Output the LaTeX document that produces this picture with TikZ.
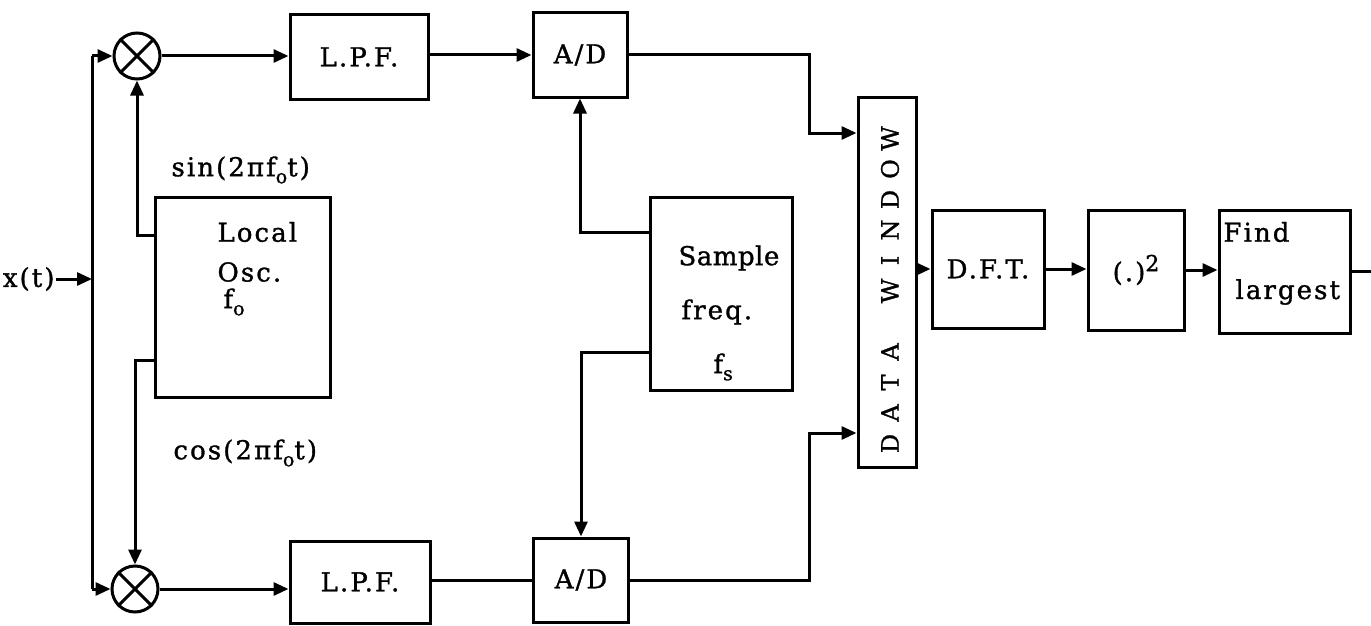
\documentclass[tikz,border=0pt]{standalone}
\usepackage{fontspec}
\setmainfont[LetterSpace=8,FakeBold=1.2]{DejaVu Serif}
\usetikzlibrary{arrows.meta,calc}
\newcommand{\dwl}[1]{\makebox[30.5pt]{#1}}
\newcommand{\sbo}[1]{\raisebox{-7pt}{\fontsize{19}{19}\selectfont #1}}
\begin{document}
\begin{tikzpicture}[x=1pt,y=-1pt,
  font=\fontsize{26}{30}\selectfont,
  line width=3pt,
  >={Triangle[length=15pt,width=13pt]},
  blk/.style={draw,rectangle,inner sep=0pt,line width=3pt},
  mult/.style={draw,circle,inner sep=0pt,minimum size=46pt,line width=3pt},
  txt/.style={inner sep=0pt,anchor=west}]
\useasboundingbox (0,0) rectangle (1371,626);

% multipliers
\node[mult] (m1) at (137,56) {};
\node[mult] (m2) at (135,589) {};
\draw (m1.north west) -- (m1.south east) (m1.north east) -- (m1.south west);
\draw (m2.north west) -- (m2.south east) (m2.north east) -- (m2.south west);

% boxes
\node[blk,minimum width=175pt,minimum height=200pt] (osc) at (242.5,297) {};
\node[blk,minimum width=138pt,minimum height=85pt] (lpf1) at (359,57) {L.P.F.};
\node[blk,minimum width=140pt,minimum height=82pt] (lpf2) at (360,582) {L.P.F.};
\node[blk,minimum width=94pt,minimum height=84pt] (ad1) at (580,55) {A/D};
\node[blk,minimum width=95pt,minimum height=84pt] (ad2) at (581,580) {A/D};
\node[blk,minimum width=142pt,minimum height=193pt] (samp) at (721,293.5) {};
\node[blk,minimum width=58pt,minimum height=370pt] (dw) at (887,282) {};
\node[inner sep=0pt,rotate=90,font=\fontsize{24}{28}\selectfont] (dwt) at (890,291)
  {\dwl{D}\dwl{A}\dwl{T}\dwl{A}\dwl{}\dwl{W}\dwl{I}\dwl{N}\dwl{D}\dwl{O}\dwl{W}};
\node[blk,minimum width=112pt,minimum height=118pt] (dft) at (988,269) {D.F.T.};
\node[blk,minimum width=96pt,minimum height=120pt] (sq) at (1136,270) {(.)\raisebox{10pt}{\fontsize{22}{22}\selectfont 2}};
\node[blk,minimum width=131pt,minimum height=123pt] (find) at (1284.5,271.5) {};

% texts inside boxes
\node[txt] (tlocal) at (216,232) {Local};
\node[txt] (tosc) at (216,272) {Osc.};
\node[txt] (tfo) at (222,302) {f\sbo{o}};
\node[txt] (tsample) at (677,258) {\addfontfeature{LetterSpace=2}Sample};
\node[txt] (tfreq) at (680,312) {freq.};
\node[txt] (tfs) at (712,367) {f\sbo{s}};
\node[txt] (tfind) at (1222,232) {Find};
\node[txt] (tlargest) at (1234,292) {largest};

% labels
\node[txt] (lsin) at (170,170) {sin(2πf\sbo{o}t)};
\node[txt] (lcos) at (172,453) {cos(2πf\sbo{o}t)};
\node[txt,anchor=east] (xt) at (56,279) {x(t)};

% input split
\coordinate (j1) at (92,56);
\coordinate (j2) at (92,589);
\draw (j1) -- (j2);
\draw[->] (xt.east) -- (xt.east -| j1);
\draw[->] (j1) -- (m1.west);
\draw[->] (j2) -- (m2.west);

% oscillator to multipliers
\draw[->] ([yshift=62pt]osc.west) -| (m1.south);
\draw[->] ([yshift=-63pt]osc.west) -| (m2.north);

% multipliers to filters to A/D
\draw[->] (m1.east) -- (m1.east -| lpf1.west);
\draw[->] (m2.east) -- (m2.east -| lpf2.west);
\draw[->] (lpf1.east |- ad1.west) -- (ad1.west);
\draw (lpf2.east |- ad2.west) -- (ad2.west);

% sampling clock
\draw[->] ([yshift=61.5pt]samp.west) -| (ad1.south);
\draw[->] ([yshift=-58.5pt]samp.west) -| (ad2.north);

% A/D to data window
\coordinate (bx) at (809,0);
\draw[->] (ad1.east) -- (ad1.east -| bx) |- ([yshift=149pt]dw.west);
\draw[->] (ad2.east) -- (ad2.east -| bx) |- ([yshift=-151pt]dw.west);

% right chain
\draw[->] (dft.west -| dw.east) -- (dft.west);
\draw[->] (dft.east) -- (dft.east -| sq.west);
\draw[->] (sq.east) -- (sq.east -| find.west);
\coordinate (out) at (1371,271.5);
\draw (find.east) -- (out);
\end{tikzpicture}
\end{document}
